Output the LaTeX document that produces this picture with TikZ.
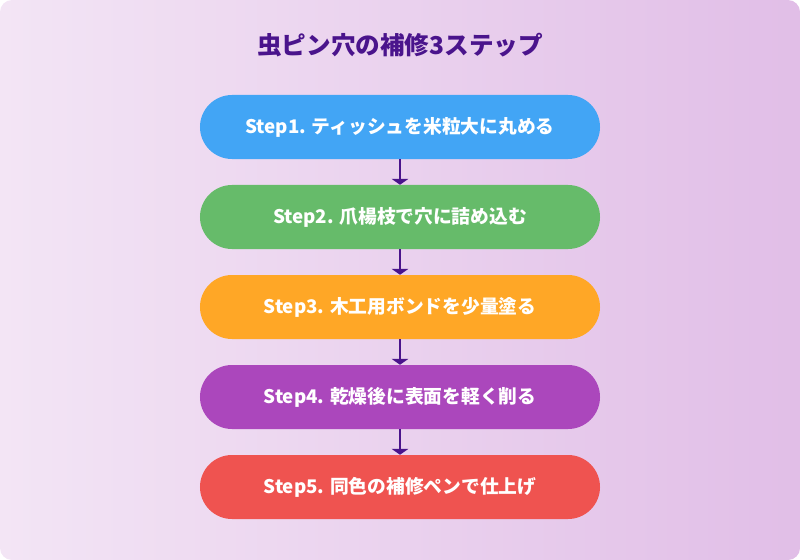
\documentclass[tikz,border=0pt]{standalone}
\usepackage{fontspec}
\setmainfont{Noto Sans CJK JP}
\usetikzlibrary{positioning,arrows.meta}
\definecolor{bgA}{HTML}{F3E5F5}
\definecolor{bgB}{HTML}{E1BEE7}
\definecolor{ink}{HTML}{4A148C}
\definecolor{stepA}{HTML}{42A5F5}
\definecolor{stepB}{HTML}{66BB6A}
\definecolor{stepC}{HTML}{FFA726}
\definecolor{stepD}{HTML}{AB47BC}
\definecolor{stepE}{HTML}{EF5350}
\tikzset{
  stepbox/.style={rounded corners=0.96cm, minimum width=12cm, minimum height=1.92cm,
    text=white, font=\fontsize{16}{18}\selectfont\bfseries},
  link/.style={-{Triangle[width=14pt,length=5pt]}, ink, line width=2.2pt}
}
\begin{document}
\begin{tikzpicture}[x=0.03cm, y=-0.03cm]
			% Background
			\useasboundingbox (0,0) rectangle (800,560);
			\shade[rounded corners=0.36cm, shading angle=135, left color=bgA, right color=bgB] (0,0) rectangle (800,560);
			% Title
			\node[text=ink, font=\fontsize{21}{24}\selectfont\bfseries] (title) at (400,45) {虫ピン穴の補修3ステップ};
			% Steps
			\node[stepbox, fill=stepA] (s1) at (400,127) {Step1. ティッシュを米粒大に丸める};
			\node[stepbox, fill=stepB] (s2) at (400,217) {Step2. 爪楊枝で穴に詰め込む};
			\node[stepbox, fill=stepC] (s3) at (400,307) {Step3. 木工用ボンドを少量塗る};
			\node[stepbox, fill=stepD] (s4) at (400,397) {Step4. 乾燥後に表面を軽く削る};
			\node[stepbox, fill=stepE] (s5) at (400,487) {Step5. 同色の補修ペンで仕上げ};
			% Arrows
			\foreach \a/\b in {s1/s2, s2/s3, s3/s4, s4/s5} {
			\draw[link] (\a) -- (\b);
			}
\end{tikzpicture}
\end{document}
